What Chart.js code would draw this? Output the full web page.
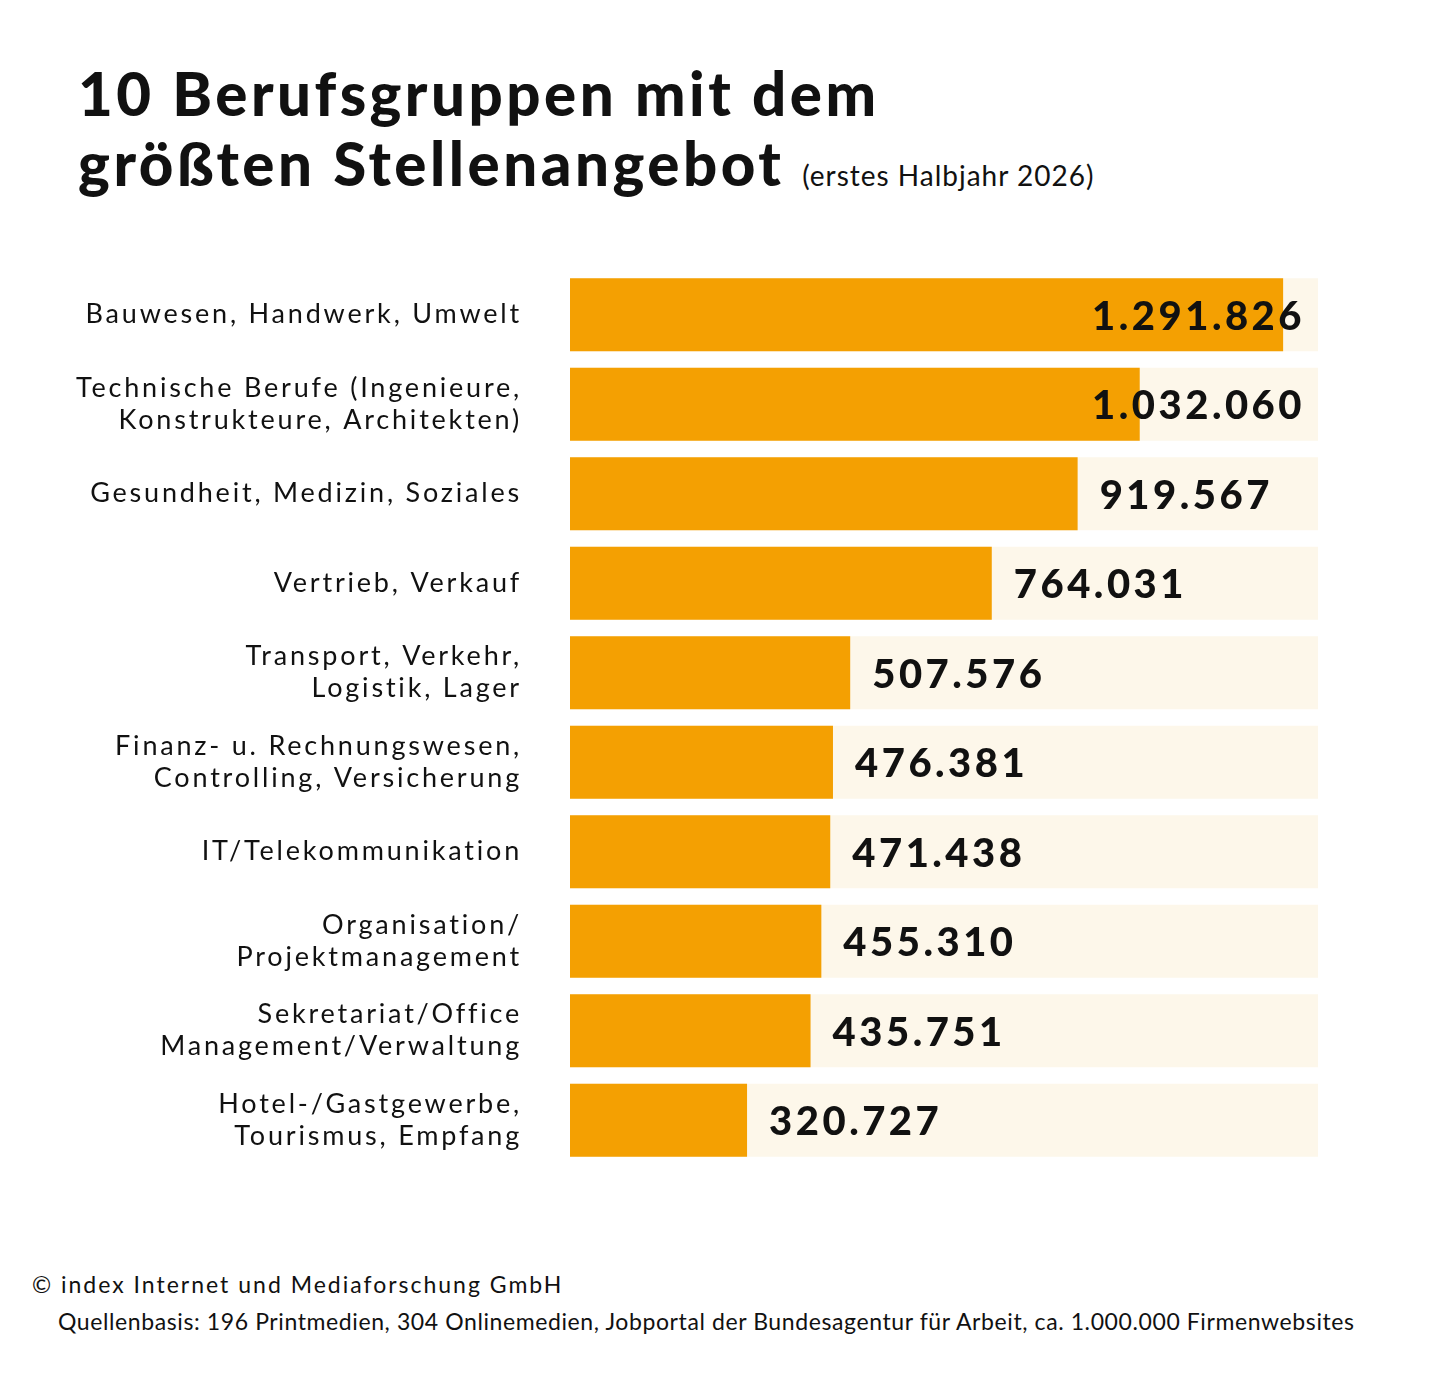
<!DOCTYPE html>
<html><head><meta charset="utf-8">
<script src="https://cdn.jsdelivr.net/npm/chart.js@4"></script>
<style>
  body { margin:0; background:#fff; font-family:"Lato","Noto Sans",sans-serif; }
  #page { position:relative; width:1440px; height:1400px; }
  h1 { position:absolute; left:78px; top:58px; margin:0; font-size:60px; line-height:70px; font-weight:900; color:#111; letter-spacing:3.5px; }
  h1 small { font-size:28px; font-weight:400; letter-spacing:1px; }
  #wrap { position:absolute; left:0; top:270px; width:1330px; height:895px; }
  .foot { position:absolute; font-size:23px; color:#111; }
</style></head><body>
<div id="page">
  <h1>10 Berufsgruppen mit dem<br>größten Stellenangebot <small>(erstes Halbjahr 2026)</small></h1>
  <div id="wrap"><canvas id="c"></canvas></div>
  <div class="foot" style="left:32px;top:1270px;letter-spacing:2px">© index Internet und Mediaforschung GmbH</div>
  <div class="foot" style="left:58px;top:1307px;font-size:23px;letter-spacing:0.6px">Quellenbasis: 196 Printmedien, 304 Onlinemedien, Jobportal der Bundesagentur für Arbeit, ca. 1.000.000 Firmenwebsites</div>
</div>
<script>
// Kategorien, Werte
const categories = [
  ['Bauwesen, Handwerk, Umwelt'],
  ['Technische Berufe (Ingenieure,', 'Konstrukteure, Architekten)'],
  ['Gesundheit, Medizin, Soziales'],
  ['Vertrieb, Verkauf'],
  ['Transport, Verkehr,', 'Logistik, Lager'],
  ['Finanz- u. Rechnungswesen,', 'Controlling, Versicherung'],
  ['IT/Telekommunikation'],
  ['Organisation/', 'Projektmanagement'],
  ['Sekretariat/Office', 'Management/Verwaltung'],
  ['Hotel-/Gastgewerbe,', 'Tourismus, Empfang']
];
const values = [1291826, 1032060, 919567, 764031, 507576, 476381, 471438, 455310, 435751, 320727];
const axisMax = 1355000;
const track = values.map(() => axisMax);

const fmt = v => v.toLocaleString('de-DE');

const labelPlugin = {
  id: 'labels',
  afterDatasetsDraw(chart) {
    const ctx = chart.ctx, y = chart.scales.y, x = chart.scales.x;
    ctx.save();
    ctx.textBaseline = 'middle';
    // category labels
    ctx.fillStyle = '#111';
    ctx.font = '400 27px Lato, "Noto Sans", sans-serif';
    ctx.letterSpacing = '2.8px';
    ctx.textAlign = 'right';
    categories.forEach((lines, i) => {
      const cy = y.getPixelForValue(i);
      const lh = 32;
      lines.forEach((t, j) => {
        ctx.fillText(t, 522, cy + (j - (lines.length - 1) / 2) * lh);
      });
    });
    // value labels
    ctx.font = '900 40px Lato, "Noto Sans", sans-serif';
    ctx.letterSpacing = '3.5px';
    ctx.textAlign = 'left';
    values.forEach((v, i) => {
      const t = fmt(v);
      const w = ctx.measureText(t).width;
      const px = Math.min(x.getPixelForValue(v) + 22, 1305 - w);
      ctx.fillText(t, px, y.getPixelForValue(i) + 2);
    });
    ctx.restore();
  }
};

new Chart(document.getElementById('c'), {
  type: 'bar',
  data: {
    labels: categories.map(l => l.join(' ')),
    datasets: [
      { data: values, backgroundColor: '#f4a002', order: 1, grouped: false },
      { data: track, backgroundColor: '#fdf7ea', order: 2, grouped: false }
    ]
  },
  options: {
    indexAxis: 'y',
    responsive: true, maintainAspectRatio: false, animation: false,
    datasets: { bar: { barPercentage: 1, categoryPercentage: 0.815 } },
    layout: { padding: { left: 570, right: 12, top: 0, bottom: 0 } },
    plugins: { legend: { display: false }, tooltip: { enabled: false } },
    scales: {
      x: { display: false, min: 0, max: axisMax },
      y: { display: false }
    }
  },
  plugins: [labelPlugin]
});
</script>
</body></html>
